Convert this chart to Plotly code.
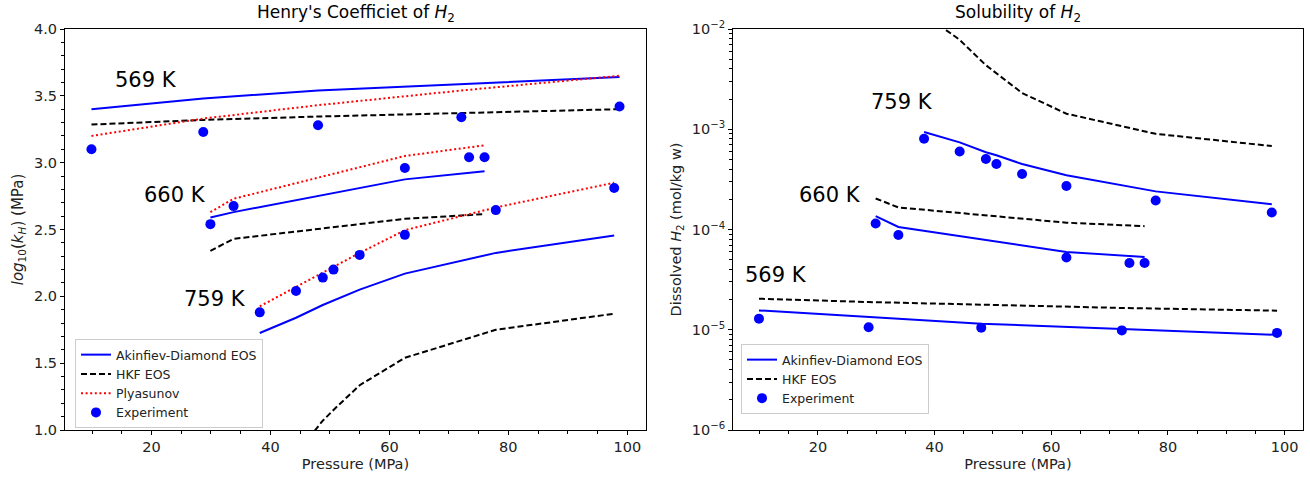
import math
import plotly.graph_objects as go

# ---------------- data ----------------
P569 = [9.9, 28.7, 48.0, 72.1, 98.7]
P660 = [29.9, 33.8, 62.6, 73.4, 76.0]
P759 = [38.2, 44.3, 48.8, 50.6, 55.0, 62.6, 77.9, 97.8]

# Henry's coefficient, log10(kH) (MPa)
kh_exp_569 = [3.10, 3.23, 3.28, 3.34, 3.42]
kh_ad_569 = [3.40, 3.48, 3.54, 3.59, 3.64]
kh_hkf_569 = [3.285, 3.32, 3.345, 3.37, 3.40]
kh_ply_569 = [3.20, 3.33, 3.43, 3.54, 3.65]

kh_exp_660 = [2.54, 2.675, 2.96, 3.04, 3.04]
kh_ad_660 = [2.59, 2.63, 2.875, 2.92, 2.935]
kh_hkf_660 = [2.34, 2.43, 2.58, 2.605, 2.615]
kh_ply_660 = [2.63, 2.73, 3.05, 3.115, 3.13]

kh_exp_759 = [1.88, 2.04, 2.14, 2.20, 2.31, 2.46, 2.645, 2.81]
kh_ad_759 = [1.726, 1.84, 1.935, 1.97, 2.05, 2.17, 2.325, 2.455]
kh_hkf_759 = [0.55, 0.82, 1.07, 1.15, 1.335, 1.54, 1.75, 1.87]
kh_ply_759 = [1.925, 2.07, 2.175, 2.22, 2.325, 2.495, 2.665, 2.85]

# Solubility of H2 (mol/kg w)
s_exp_569 = [1.29e-5, 1.06e-5, 1.05e-5, 9.85e-6, 9.3e-6]
s_ad_569 = [1.56e-5, 1.34e-5, 1.15e-5, 1.02e-5, 8.9e-6]
s_hkf_569 = [2.04e-5, 1.89e-5, 1.78e-5, 1.65e-5, 1.55e-5]

s_exp_660 = [1.15e-4, 8.8e-5, 5.25e-5, 4.64e-5, 4.64e-5]
s_ad_660 = [1.36e-4, 1.06e-4, 5.98e-5, 5.46e-5, 5.33e-5]
s_hkf_660 = [2.04e-4, 1.66e-4, 1.17e-4, 1.10e-4, 1.08e-4]

s_exp_759 = [8.05e-4, 6.0e-4, 5.05e-4, 4.5e-4, 3.58e-4, 2.72e-4, 1.95e-4, 1.48e-4]
s_ad_759 = [9.4e-4, 7.4e-4, 5.9e-4, 5.5e-4, 4.5e-4, 3.47e-4, 2.4e-4, 1.79e-4]
s_hkf_759 = [1.4e-2, 7.8e-3, 4.35e-3, 3.6e-3, 2.3e-3, 1.43e-3, 9.0e-4, 6.8e-4]

series_names = ["Akinfiev-Diamond EOS", "HKF EOS", "Plyasunov", "Experiment"]
temp_labels = ["569 K", "660 K", "759 K"]
kh_label_pos = [(19.0, 3.62), (23.9, 2.76), (30.6, 1.98)]
s_label_pos = [(12.8, 3.5e-5), (22.0, 2.2e-4), (34.4, 1.86e-3)]

# ---------------- figure ----------------
FONT = "DejaVu Sans"
W, H = 1310, 479
ML, MR, MT, MB = 65, 7, 29, 49
PW = W - ML - MR
PH = H - MT - MB


def px_x(px):
    return (px - ML) / PW


def px_y(py):
    return (H - MB - py) / PH


fig = go.Figure()

line_styles = {
    "ad": dict(color="#0000ff", width=2),
    "hkf": dict(color="#000000", width=2, dash="6px,3px"),
    "ply": dict(color="#ff0000", width=2, dash="2px,2.6px"),
}


def add_line(x, y, key, name, show, xa, ya, legend):
    fig.add_trace(go.Scatter(x=x, y=y, mode="lines", line=line_styles[key], name=name,
                             legendgroup=legend + key, showlegend=show,
                             xaxis=xa, yaxis=ya, legend=legend))


def add_exp(x, y, name, show, xa, ya, legend):
    fig.add_trace(go.Scatter(x=x, y=y, mode="markers",
                             marker=dict(color="#0000ff", size=10, symbol="circle"),
                             name=name, legendgroup=legend + "exp", showlegend=show,
                             xaxis=xa, yaxis=ya, legend=legend))


left_sets = [
    (P569, kh_ad_569, kh_hkf_569, kh_ply_569, kh_exp_569),
    (P660, kh_ad_660, kh_hkf_660, kh_ply_660, kh_exp_660),
    (P759, kh_ad_759, kh_hkf_759, kh_ply_759, kh_exp_759),
]
for i, (p, ad, hkf, ply, ex) in enumerate(left_sets):
    add_line(p, ad, "ad", series_names[0], i == 0, "x", "y", "legend")
for i, (p, ad, hkf, ply, ex) in enumerate(left_sets):
    add_line(p, hkf, "hkf", series_names[1], i == 0, "x", "y", "legend")
for i, (p, ad, hkf, ply, ex) in enumerate(left_sets):
    add_line(p, ply, "ply", series_names[2], i == 0, "x", "y", "legend")
for i, (p, ad, hkf, ply, ex) in enumerate(left_sets):
    add_exp(p, ex, series_names[3], i == 0, "x", "y", "legend")

right_sets = [
    (P569, s_ad_569, s_hkf_569, s_exp_569),
    (P660, s_ad_660, s_hkf_660, s_exp_660),
    (P759, s_ad_759, s_hkf_759, s_exp_759),
]
for i, (p, ad, hkf, ex) in enumerate(right_sets):
    add_line(p, ad, "ad", series_names[0], i == 0, "x2", "y2", "legend2")
for i, (p, ad, hkf, ex) in enumerate(right_sets):
    add_line(p, hkf, "hkf", series_names[1], i == 0, "x2", "y2", "legend2")
for i, (p, ad, hkf, ex) in enumerate(right_sets):
    add_exp(p, ex, series_names[3], i == 0, "x2", "y2", "legend2")

for t, (x, y) in zip(temp_labels, kh_label_pos):
    fig.add_annotation(x=x, y=y, xref="x", yref="y", text=t, showarrow=False,
                       xanchor="center", yanchor="middle",
                       font=dict(family=FONT, size=21, color="black"))
for t, (x, y) in zip(temp_labels, s_label_pos):
    fig.add_annotation(x=x, y=math.log10(y), xref="x2", yref="y2", text=t, showarrow=False,
                       xanchor="center", yanchor="middle",
                       font=dict(family=FONT, size=21, color="black"))

fig.add_annotation(x=px_x((65 + 646) / 2), y=px_y(13), xref="paper", yref="paper",
                   text="Henry's Coefficiet of <i>H</i><sub>2</sub>", showarrow=False,
                   font=dict(family=FONT, size=17, color="black"),
                   xanchor="center", yanchor="middle")
fig.add_annotation(x=px_x((733 + 1303) / 2), y=px_y(13), xref="paper", yref="paper",
                   text="Solubility of <i>H</i><sub>2</sub>", showarrow=False,
                   font=dict(family=FONT, size=17, color="black"),
                   xanchor="center", yanchor="middle")

TF = dict(family=FONT, size=14.5, color="#222")
axis_common = dict(showline=True, linecolor="black", linewidth=1, mirror=True,
                   ticks="outside", ticklen=4, tickcolor="black", showgrid=False,
                   zeroline=False, tickfont=TF, automargin=False)

fig.update_layout(
    width=W, height=H,
    margin=dict(l=ML, r=MR, t=MT, b=MB),
    paper_bgcolor="white", plot_bgcolor="white",
    font=dict(family=FONT, size=14, color="#222"),
    xaxis=dict(domain=[0, px_x(646)], range=[5.45, 103.15], dtick=20, tick0=0,
               minor=dict(dtick=5, ticks="outside", ticklen=3, tickcolor="black"),
               title=dict(text="Pressure (MPa)", standoff=4, font=TF),
               anchor="y", **axis_common),
    yaxis=dict(domain=[0, 1], range=[1.0, 4.0], dtick=0.5, tick0=0, tickformat=".1f",
               minor=dict(dtick=0.1, ticks="outside", ticklen=3, tickcolor="black"),
               title=dict(text="<i>log</i><sub>10</sub>(<i>k</i><sub><i>H</i></sub>) (MPa)",
                          standoff=6, font=dict(family=FONT, size=15, color="#222")),
               anchor="x", **axis_common),
    xaxis2=dict(domain=[px_x(733), 1], range=[5.45, 103.15], dtick=20, tick0=0,
                minor=dict(dtick=5, ticks="outside", ticklen=3, tickcolor="black"),
                title=dict(text="Pressure (MPa)", standoff=4, font=TF),
                anchor="y2", **axis_common),
    yaxis2=dict(domain=[0, 1], type="log", range=[-6, -2],
                tickvals=[1e-6, 1e-5, 1e-4, 1e-3, 1e-2],
                ticktext=["10<sup>−6</sup>", "10<sup>−5</sup>", "10<sup>−4</sup>",
                          "10<sup>−3</sup>", "10<sup>−2</sup>"],
                minor=dict(ticks="outside", ticklen=3, tickcolor="black",
                           tickvals=[m * 10 ** e for e in range(-6, -2) for m in range(2, 10)]),
                title=dict(text="Dissolved <i>H</i><sub>2</sub> (mol/kg w)",
                           standoff=6, font=TF),
                anchor="x2", **axis_common),
    legend=dict(x=px_x(75), y=px_y(339), xanchor="left", yanchor="top",
                bgcolor="rgba(255,255,255,0.8)", bordercolor="#cccccc", borderwidth=1,
                font=dict(family=FONT, size=12.5, color="#222"), tracegroupgap=0),
    legend2=dict(x=px_x(741), y=px_y(344), xanchor="left", yanchor="top",
                 bgcolor="rgba(255,255,255,0.8)", bordercolor="#cccccc", borderwidth=1,
                 font=dict(family=FONT, size=12.5, color="#222"), tracegroupgap=0),
)

# remove the page's default body margin so the figure fills the window exactly
fig.write_html("out.html", config={"displayModeBar": False},
               post_script="document.body.style.margin='0';document.body.style.overflow='hidden';")
